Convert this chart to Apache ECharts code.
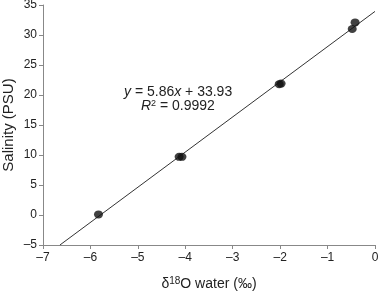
<!DOCTYPE html>
<html>
<head>
<meta charset="utf-8">
<script src="https://cdn.jsdelivr.net/npm/echarts@6/dist/echarts.min.js"></script>
<style>
  html, body { margin: 0; padding: 0; background: #fff; }
  #chart { width: 380px; height: 292px; }
</style>
</head>
<body>
<div id="chart"></div>
<script>
// measured points (δ18O water, salinity)
var d18O = [-5.83, -4.13, -4.07, -2.02, -1.98, -0.48, -0.42];
var salinity = [0.1, 9.7, 9.7, 21.8, 21.9, 31.0, 32.1];
// fitted line end points: y = 5.86x + 33.93
var fitX = [-6.643, 0];
var fitY = [-5, 33.93];

var pts = d18O.map(function (x, i) { return [x, salinity[i]]; });
var fit = fitX.map(function (x, i) { return [x, fitY[i]]; });

var font = "Liberation Sans, Arial, sans-serif";
var minus = function (v) { return String(v).replace("-", "\u2013"); };

var chart = echarts.init(document.getElementById("chart"));
var option = {
  animation: false,
  grid: { left: 43, right: 5, top: 5, bottom: 47, containLabel: false, outerBoundsMode: "none" },
  xAxis: {
    type: "value",
    min: -7,
    max: 0,
    interval: 1,
    name: "{a|δ}{s|18}{a|O water (‰)}",
    nameLocation: "middle",
    nameGap: 31,
    nameTextStyle: {
      rich: {
        a: { fontFamily: font, fontSize: 14, color: "#222" },
        s: { fontFamily: font, fontSize: 10, color: "#222", verticalAlign: "bottom", padding: [0, 0, 6, 0] },
      },
    },
    axisLine: { onZero: false, lineStyle: { color: "#888", width: 1 } },
    axisTick: { show: true, length: 4, lineStyle: { color: "#888" } },
    axisLabel: { color: "#222", fontFamily: font, fontSize: 12, margin: 7, formatter: minus },
    splitLine: { show: false },
  },
  yAxis: {
    type: "value",
    min: -5,
    max: 35,
    interval: 5,
    name: "Salinity (PSU)",
    nameLocation: "middle",
    nameGap: 27,
    nameMoveOverlap: false,
    nameTextStyle: { fontFamily: font, fontSize: 15, color: "#222" },
    axisLine: { onZero: false, lineStyle: { color: "#888", width: 1 } },
    axisTick: { show: true, length: 4, lineStyle: { color: "#888" } },
    axisLabel: { color: "#222", fontFamily: font, fontSize: 12, margin: 6, formatter: minus },
    splitLine: { show: false },
  },
  graphic: [
    {
      type: "text",
      left: 124,
      top: 85,
      style: {
        text: "{i|y} = 5.86{i|x} + 33.93",
        font: "14px " + font,
        fill: "#222",
        rich: { i: { fontStyle: "italic", fontFamily: font, fontSize: 14, fill: "#222" } },
      },
    },
    {
      type: "text",
      left: 141,
      top: 99,
      style: {
        text: "{i|R}{s|2} = 0.9992",
        font: "14px " + font,
        fill: "#222",
        rich: {
          i: { fontStyle: "italic", fontFamily: font, fontSize: 14, fill: "#222" },
          s: { fontFamily: font, fontSize: 9, fill: "#222", verticalAlign: "bottom", padding: [0, 0, 6, 0] },
        },
      },
    },
  ],
  series: [
    {
      type: "line",
      data: fit,
      symbol: "none",
      lineStyle: { color: "#333", width: 1 },
      z: 1,
    },
    {
      type: "scatter",
      data: pts,
      symbol: "circle",
      symbolSize: [9, 8],
      itemStyle: { color: "#111" },
      z: 2,
    },
  ],
};
chart.setOption(option, true);
</script>
</body>
</html>
